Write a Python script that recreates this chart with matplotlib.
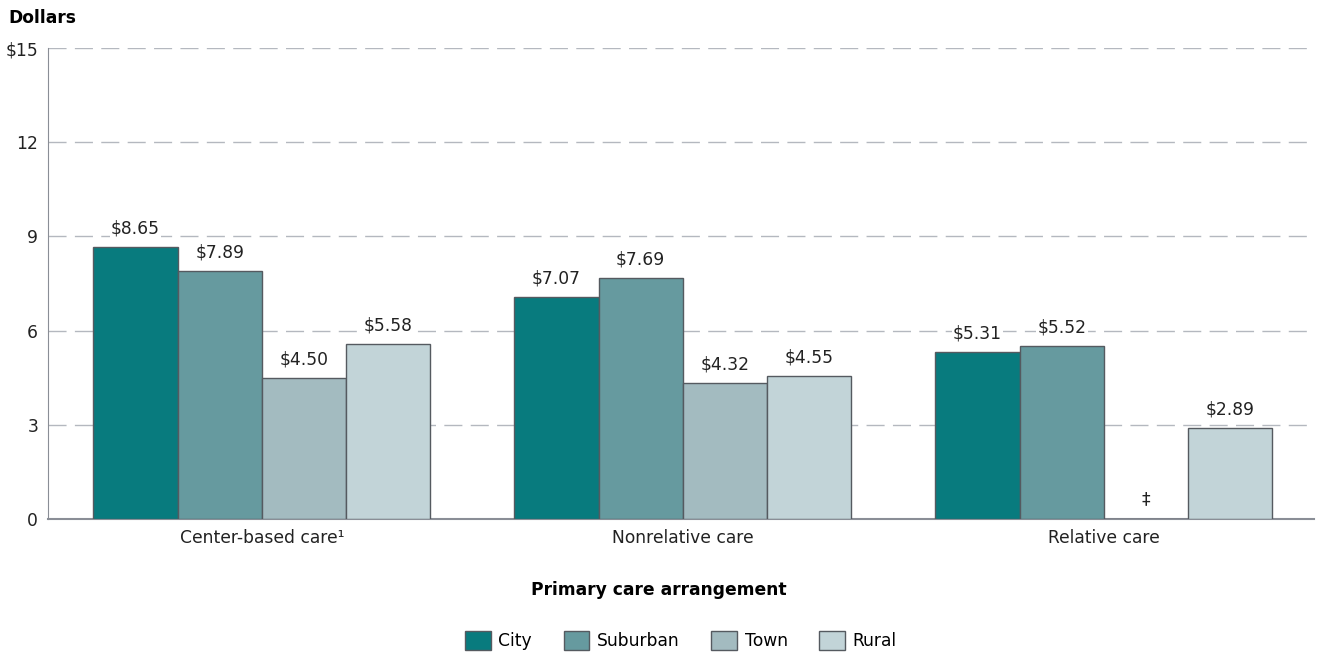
import numpy as np
import matplotlib.pyplot as plt

plt.rcParams['font.family'] = ['DejaVu Sans']

categories = ['Center-based care\u00b9', 'Nonrelative care', 'Relative care']
series = ['City', 'Suburban', 'Town', 'Rural']
values = {
    'City': [8.65, 7.07, 5.31],
    'Suburban': [7.89, 7.69, 5.52],
    'Town': [4.50, 4.32, np.nan],
    'Rural': [5.58, 4.55, 2.89],
}
colors = ['#087b7e', '#669a9f', '#a3bbc0', '#c2d4d8']
yticks = [0, 3, 6, 9, 12, 15]
ytick_labels = ['0', '3', '6', '9', '12', '$15']

fs = 12.3
fig = plt.figure(figsize=(13.17, 6.55), dpi=100)
ax = fig.add_axes([0.0364, 0.2076, 0.9616, 0.7191])

x = np.arange(len(categories))
width = 0.2
for i, (name, col) in enumerate(zip(series, colors)):
    pos = x + (i - 1.5) * width
    vals = np.array(values[name], dtype=float)
    ax.bar(pos, np.nan_to_num(vals), width, color=col, edgecolor='#555a60',
           linewidth=1, label=name, zorder=3)
    for p, v in zip(pos, vals):
        if np.isnan(v):
            ax.text(p, 0.35, '\u2021', ha='center', va='bottom', fontsize=fs,
                    color='#222222', zorder=4)
        else:
            ax.text(p, v + 0.3, '${:.2f}'.format(v), ha='center', va='bottom',
                    fontsize=fs, color='#222222', zorder=4,
                    bbox=dict(facecolor='white', edgecolor='none', pad=1))

ax.set_xlim(-0.508, 2.5)
ax.set_ylim(0, 15)
ax.set_yticks(yticks)
ax.set_yticklabels(ytick_labels, fontsize=fs, color='#222222')
ax.set_xticks(x)
ax.set_xticklabels(categories, fontsize=fs, color='#222222')
ax.tick_params(axis='both', length=0, pad=7)
ax.yaxis.grid(True, linestyle=(0, (13, 6)), color='#b4b8bf', linewidth=1, zorder=0)
for s in ['top', 'right']:
    ax.spines[s].set_visible(False)
ax.spines['left'].set_color('#8a8e96')
ax.spines['bottom'].set_color('#8a8e96')
ax.spines['bottom'].set_linewidth(1.5)

fig.text(0.006, 0.972, 'Dollars', fontsize=fs, fontweight='bold', ha='left', va='center')
fig.text(0.5, 0.099, 'Primary care arrangement', fontsize=fs, fontweight='bold',
         ha='center', va='center')

fig.legend(loc='center', bbox_to_anchor=(0.517, 0.022), ncol=4, frameon=False,
           fontsize=fs, handlelength=1.5, handleheight=1.35, columnspacing=1.85,
           handletextpad=0.45)

fig.savefig('out.png', dpi=100)
